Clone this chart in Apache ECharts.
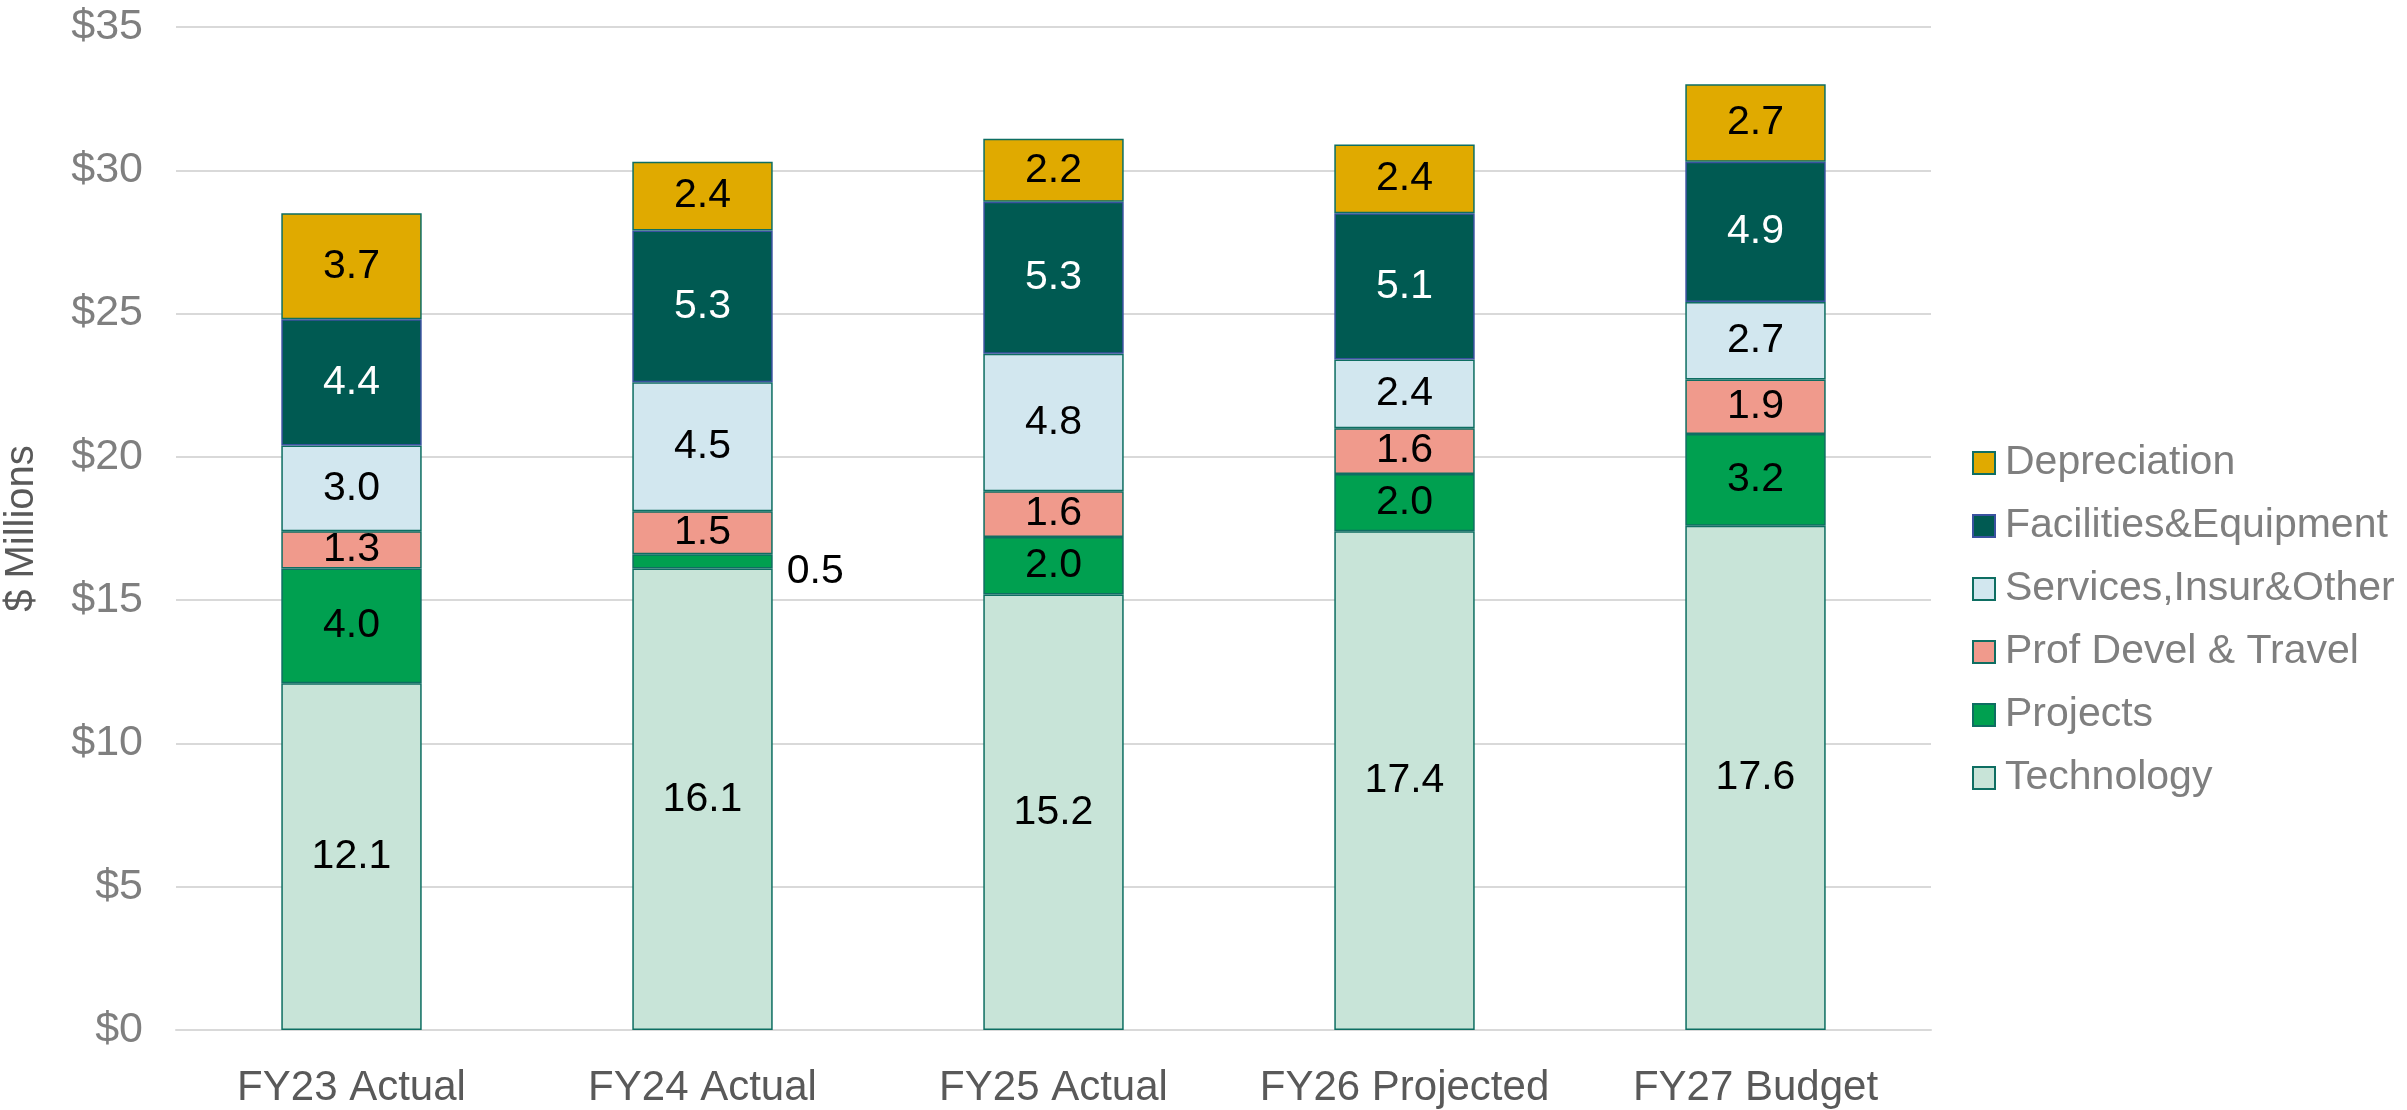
<!DOCTYPE html>
<html><head><meta charset="utf-8">
<script src="https://cdn.jsdelivr.net/npm/echarts@6/dist/echarts.min.js"></script>
<style>html,body{margin:0;padding:0;background:#fff}#c{width:2407px;height:1110px}</style>
</head><body><div id="c"></div>
<script>
const categories = ['FY23 Actual','FY24 Actual','FY25 Actual','FY26 Projected','FY27 Budget'];
const technology = [12.1, 16.1, 15.2, 17.4, 17.6];
const projects = [4.0, 0.5, 2.0, 2.0, 3.2];
const profDevel = [1.3, 1.5, 1.6, 1.6, 1.9];
const services = [3.0, 4.5, 4.8, 2.4, 2.7];
const facilities = [4.4, 5.3, 5.3, 5.1, 4.9];
const depreciation = [3.7, 2.4, 2.2, 2.4, 2.7];
const yTicks = [0,5,10,15,20,25,30,35];

const FONT = '"Liberation Sans", Arial, sans-serif';
const defs = [
  {name:'Technology', data:technology, color:'#C8E4D8', border:'#0E6E62', text:'#000'},
  {name:'Projects', data:projects, color:'#00A050', border:'#0E6E62', text:'#000'},
  {name:'Prof Devel & Travel', data:profDevel, color:'#F09A8C', border:'#0E6E62', text:'#000'},
  {name:'Services,Insur&Other', data:services, color:'#D2E7EF', border:'#0E6E62', text:'#000'},
  {name:'Facilities&Equipment', data:facilities, color:'#005A52', border:'#3A52A0', text:'#fff'},
  {name:'Depreciation', data:depreciation, color:'#E0AA00', border:'#0E6E62', text:'#000'}
];
const series = defs.map(d => ({
  name: d.name, type: 'bar', stack: 'total', barCategoryGap: '60%',
  itemStyle: {color: d.color, borderColor: d.border, borderWidth: 1.5},
  label: {show: true, position: 'inside', color: d.text, fontSize: 41, fontFamily: FONT,
          formatter: p => p.value.toFixed(1)},
  data: d.data.map(v => v < 1 ? {value: v, label: {position: 'right', distance: 14, color: '#000', offset:[0,10]}} : v)
}));

const chart = echarts.init(document.getElementById('c'));
chart.setOption({
  animation: false,
  grid: {left: 176, right: 476, top: 27, bottom: 80, containLabel: false, outerBoundsMode: 'none'},
  legend: {
    orient: 'vertical', left: 1967, top: 437,
    data: ['Depreciation','Facilities&Equipment','Services,Insur&Other','Prof Devel & Travel','Projects','Technology'],
    itemWidth: 22, itemHeight: 22, itemGap: 21, icon: 'rect',
    textStyle: {fontSize: 41, fontFamily: FONT, color: '#7F7F7F', lineHeight: 42, padding: [0,0,0,5]}
  },
  xAxis: {
    type: 'category', data: categories,
    axisLine: {lineStyle: {color: '#D9D9D9', width: 2}},
    axisTick: {show: false},
    axisLabel: {interval: 0, fontSize: 42, fontFamily: FONT, color: '#595959', margin: 37}
  },
  yAxis: {
    type: 'value', min: yTicks[0], max: yTicks[yTicks.length-1], interval: 5,
    name: '$ Millions', nameLocation: 'middle', nameGap: 134,
    nameTextStyle: {fontSize: 40, fontFamily: FONT, color: '#595959'},
    axisLine: {show: false}, axisTick: {show: false},
    axisLabel: {fontSize: 43, fontFamily: FONT, color: '#7F7F7F', margin: 33, formatter: v => '$' + v},
    splitLine: {lineStyle: {color: '#D9D9D9', width: 2}}
  },
  series: series
});
</script></body></html>
